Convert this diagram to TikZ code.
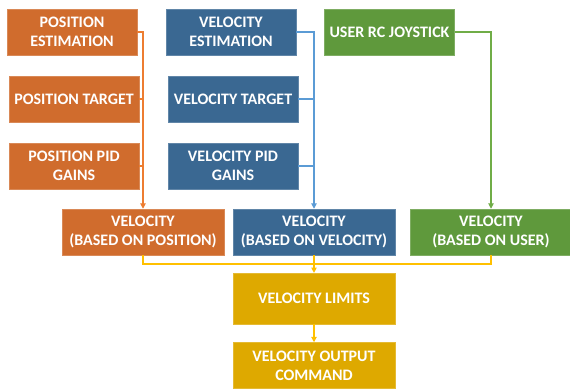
\documentclass[tikz,border=0pt]{standalone}
\usepackage{fontspec}
\setmainfont{Carlito}
\usepackage{xcolor}
\usetikzlibrary{%
  arrows.meta,
  positioning,calc
}
\definecolor{posfill}{HTML}{D06C2D}
\definecolor{posline}{HTML}{ED7D31}
\definecolor{velfill}{HTML}{3A6892}
\definecolor{velline}{HTML}{5B9BD5}
\definecolor{usrfill}{HTML}{5F993C}
\definecolor{usrline}{HTML}{70AD47}
\definecolor{limfill}{HTML}{DEA900}
\definecolor{limline}{HTML}{FFC000}

\begin{document}
\begin{tikzpicture}[x=0.75pt,y=-0.75pt,
    box/.style={draw=#1!80!white, fill=#1, text=white, inner sep=0pt,
      minimum width=97.5pt, minimum height=34.5pt, align=center,
      font=\fontsize{12}{14.3}\selectfont\bfseries},
    wide/.style={minimum width=121.5pt},
    link/.style={draw=#1, line width=0.8pt},
    tip/.style={-{Triangle[width=4pt,length=4pt]}}
  ]
  \useasboundingbox (0,0) rectangle (570,390);

  % inputs
  \foreach \nm/\x/\y/\txt in {posest/72/32/{POSITION\\ESTIMATION},
      postgt/74/99/{POSITION TARGET}, pospid/74/166/{POSITION PID\\GAINS}}{
    \node [box=posfill] (\nm) at (\x,\y) {\txt};
  }
  \foreach \nm/\x/\y/\txt in {velest/231/32/{VELOCITY\\ESTIMATION},
      veltgt/233/99/{VELOCITY TARGET}, velpid/233/166/{VELOCITY PID\\GAINS}}{
    \node [box=velfill] (\nm) at (\x,\y) {\txt};
  }
  \node [box=usrfill] (usr) at (389.5,32) {USER RC JOYSTICK};

  % velocity sources
  \node [box=posfill,wide] (vpos) at (143,232) {VELOCITY\\(BASED ON POSITION)};
  \node [box=velfill,wide] (vvel) at (314,232) {VELOCITY\\(BASED ON VELOCITY)};
  \node [box=usrfill,wide] (vusr) at (491,232) {VELOCITY\\(BASED ON USER)};

  \node [box=limfill,wide,minimum height=38pt] (lim) at (314,298.5) {VELOCITY LIMITS};
  \node [box=limfill,wide] (out) at (314,365.5) {VELOCITY OUTPUT\\COMMAND};

  \coordinate (join) at (314,264);

  % connectors
  \draw [link=posline,tip] (posest.east) -| (vpos.north);
  \draw [link=posline] (postgt.east) -- (postgt.east -| vpos.north);
  \draw [link=posline] (pospid.east) -- (pospid.east -| vpos.north);

  \draw [link=velline,tip] (velest.east) -| (vvel.north);
  \draw [link=velline] (veltgt.east) -- (veltgt.east -| vvel.north);
  \draw [link=velline] (velpid.east) -- (velpid.east -| vvel.north);

  \draw [link=usrline,tip] (usr.east) -| (vusr.north);

  \draw [link=limline] (vpos.south) |- (vusr.south |- join) -- (vusr.south);
  \draw [link=limline,tip] (vvel.south) -- (lim.north);
  \draw [link=limline,tip] (lim.south) -- (out.north);
\end{tikzpicture}
\end{document}
